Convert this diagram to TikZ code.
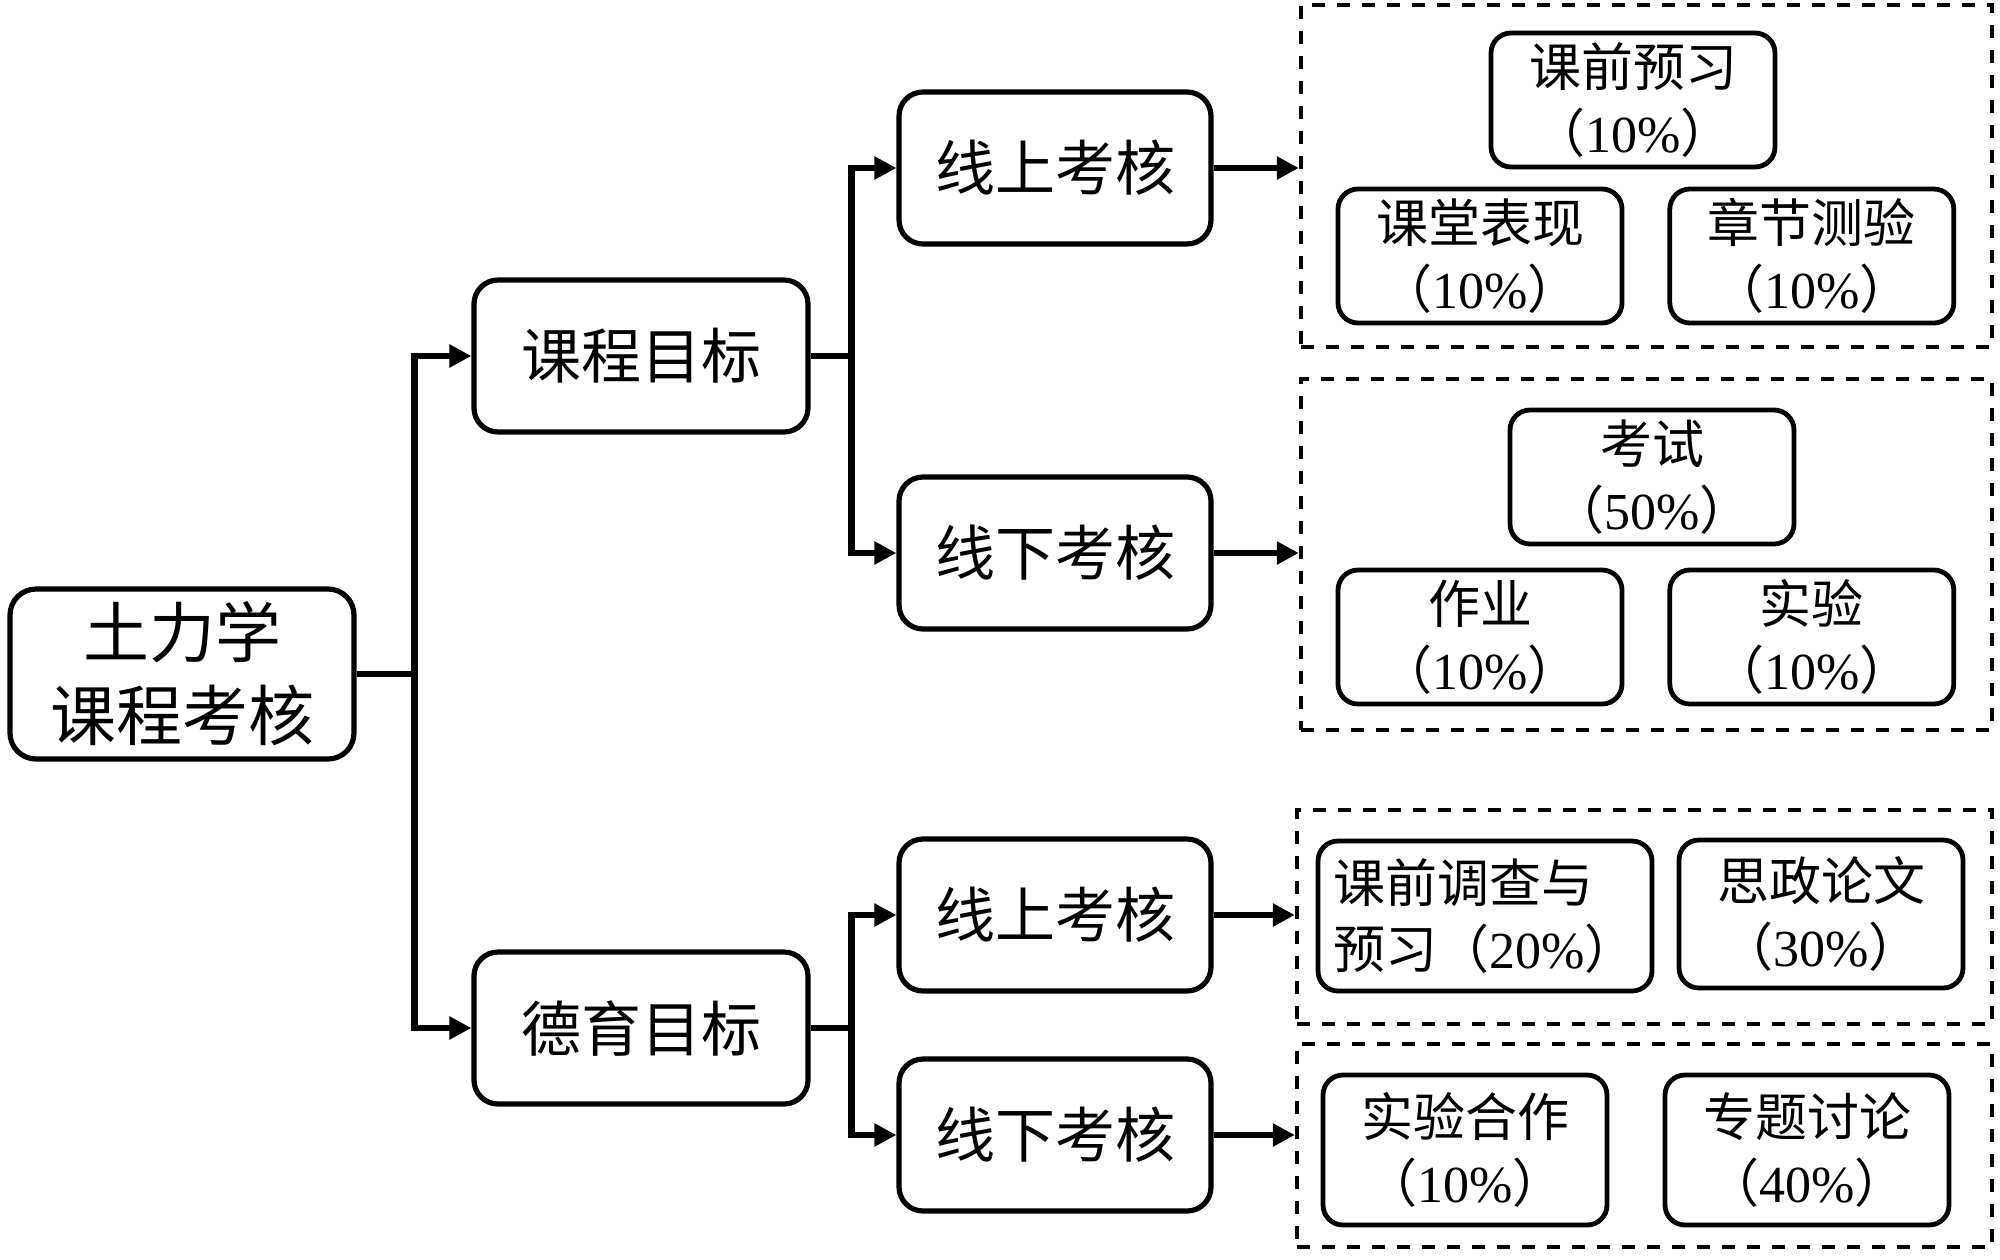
\documentclass[tikz,border=0pt]{standalone}
\usepackage{fontspec}
\setmainfont{Liberation Serif}
\newfontfamily\cjk{Noto Sans CJK SC}
\usepackage{tikz}
\usetikzlibrary{arrows.meta, positioning}
\newcommand{\pct}[1]{（{\rmfamily #1\%}）}
\tikzstyle{root}=[rectangle, rounded corners=13pt, minimum width=172pt, minimum height=85pt, align=center, draw=black, line width=2.6pt, font=\cjk\fontsize{33}{41.5}\selectfont]
\tikzstyle{goal}=[rectangle, rounded corners=12pt, minimum width=167pt, minimum height=76pt, text centered, draw=black, line width=2.6pt, font=\cjk\fontsize{30}{36}\selectfont]
\tikzstyle{check}=[goal, minimum width=156pt]
\tikzstyle{item}=[rectangle, rounded corners=10pt, minimum width=142pt, minimum height=67pt, align=center, draw=black, line width=2.4pt, inner sep=2pt, font=\cjk\fontsize{26}{33}\selectfont]
\tikzstyle{group}=[rectangle, draw=black, line width=2.2pt, dash pattern=on 6.5pt off 6pt]
\tikzstyle{arrow}=[line width=3.2pt, -{Triangle[length=11pt, width=11pt]}]

\begin{document}
\begin{tikzpicture}[x=0.5pt, y=-0.5pt]
		\useasboundingbox (0,0) rectangle (2000,1259);
		\node (root) [root] at (182,674) {土力学\\课程考核};
		\node (goal1) [goal] at (641,356) {课程目标};
		\node (goal2) [goal] at (641,1028) {德育目标};
		
		\node (on1) [check] at (1055,168) {线上考核};
		\node (off1) [check] at (1055,553) {线下考核};
		\node (on2) [check] at (1055,915) {线上考核};
		\node (off2) [check] at (1055,1135) {线下考核};
		
		% dashed groups
		\node (grpA) [group, minimum width=345.5pt, minimum height=171pt] at (1646.5,176) {};
		\node (grpB) [group, minimum width=345.5pt, minimum height=175.5pt] at (1646.5,554.5) {};
		\node (grpC) [group, minimum width=347.5pt, minimum height=107pt] at (1644.5,917) {};
		\node (grpD) [group, minimum width=347.5pt, minimum height=101.5pt] at (1644.5,1145.5) {};
		
		\node (pre) [item] at (1633,100) {课前预习\\\pct{10}};
		\node (class) [item] at (1480,256) {课堂表现\\\pct{10}};
		\node (quiz) [item, right=21.5pt of class] {章节测验\\\pct{10}};
		\node (exam) [item] at (1652,477) {考试\\\pct{50}};
		\node (hw) [item] at (1480,637) {作业\\\pct{10}};
		\node (lab) [item, right=21.5pt of hw] {实验\\\pct{10}};
		\node (survey) [item, align=left, minimum width=167pt, minimum height=75pt] at (1485,916) {课前调查与\\预习\pct{20}};
		\node (essay) [item, minimum height=74pt] at (1821,914) {思政论文\\\pct{30}};
		\node (coop) [item, minimum height=75pt] at (1465,1150) {实验合作\\\pct{10}};
		\node (topic) [item, minimum height=75pt] at (1807,1150) {专题讨论\\\pct{40}};
		
		\draw[arrow] (root.east) -- ++(58,0) |- (goal1.west);
		\draw[arrow] (root.east) -- ++(58,0) |- (goal2.west);
		\draw[arrow] (goal1.east) -- ++(41,0) |- (on1.west);
		\draw[arrow] (goal1.east) -- ++(41,0) |- (off1.west);
		\draw[arrow] (goal2.east) -- ++(41,0) |- (on2.west);
		\draw[arrow] (goal2.east) -- ++(41,0) |- (off2.west);
		\draw[arrow] (on1.east) -- (on1.east -| grpA.west);
		\draw[arrow] (off1.east) -- (off1.east -| grpB.west);
		\draw[arrow] (on2.east) -- (on2.east -| grpC.west);
		\draw[arrow] (off2.east) -- (off2.east -| grpD.west);
	\end{tikzpicture}
\end{document}
